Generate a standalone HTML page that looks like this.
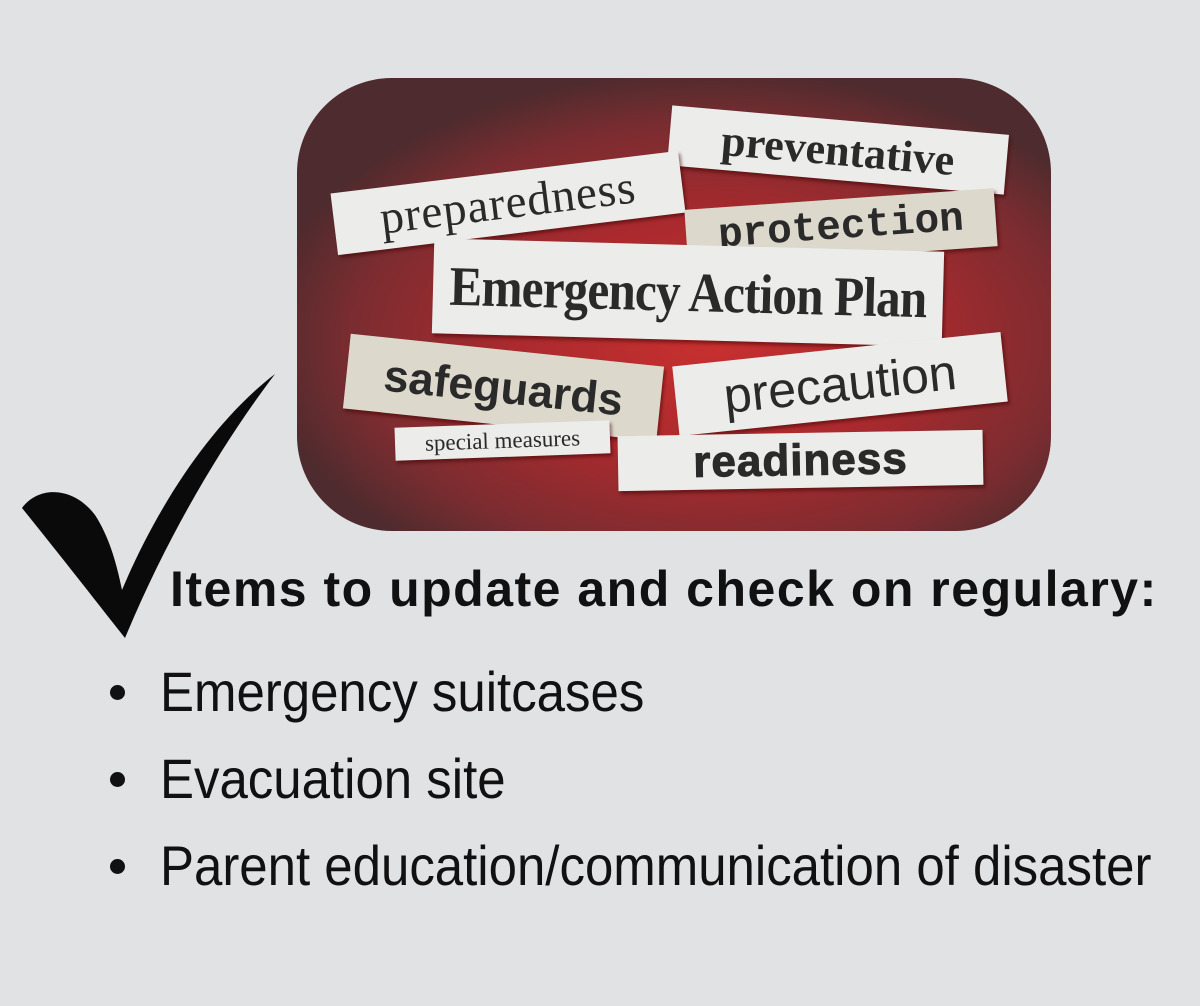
<!DOCTYPE html>
<html><head><meta charset="utf-8"><style>
html,body{margin:0;padding:0}
body{width:1200px;height:1006px;background:#e1e2e4;position:relative;overflow:hidden;font-family:"Liberation Sans",sans-serif}
.box{position:absolute;left:297px;top:78px;width:754px;height:453px;border-radius:95px;background:radial-gradient(ellipse 60% 60% at 55% 58%,#c8302f 0%,#a92a2e 45%,#7a2c30 80%,#4d2b2e 100%)}
.s{position:absolute;display:flex;align-items:center;justify-content:center;background:#ececea;box-shadow:2px 3px 3px rgba(60,0,0,.5);color:#2a2a2a;white-space:nowrap}
.t{background:#dcd8cc}
.h{position:absolute;left:170px;top:560px;font-size:50px;font-weight:bold;color:#111;letter-spacing:1.5px;font-family:"Liberation Sans",sans-serif;white-space:nowrap}
ul{position:absolute;left:110px;top:648px;margin:0;padding:0;list-style:none;font-family:"Liberation Sans",sans-serif;font-size:56px;color:#111}
li{height:87px;line-height:87px;position:relative;padding-left:50px;white-space:nowrap}
li span{display:inline-block;transform:scaleX(.91);transform-origin:left center}
li:before{content:"";position:absolute;left:0;top:37px;width:15px;height:15px;border-radius:50%;background:#111}
</style></head><body>
<div class="box"></div>
<div class="s" style="left:669px;top:120px;width:338px;height:60px;transform:rotate(5deg);font-family:'Liberation Serif',serif;font-weight:bold;font-size:44px">preventative</div>
<div class="s" style="left:333px;top:172px;width:350px;height:62px;transform:rotate(-7deg);font-family:'Liberation Serif',serif;font-size:47px;letter-spacing:1px">preparedness</div>
<div class="s t" style="left:686px;top:199px;width:310px;height:58px;transform:rotate(-4deg);font-family:'Liberation Mono',monospace;font-weight:bold;font-size:41px">protection</div>
<div class="s" style="left:433px;top:245px;width:510px;height:95px;transform:rotate(1.5deg);font-family:'Liberation Serif',serif;font-weight:bold;font-size:56px;letter-spacing:-1px"><span style="display:inline-block;transform:scaleX(.88)">Emergency Action Plan</span></div>
<div class="s t" style="left:346px;top:350px;width:315px;height:75px;transform:rotate(6deg);font-weight:bold;font-size:45px">safeguards</div>
<div class="s" style="left:675px;top:349px;width:330px;height:70px;transform:rotate(-6deg);font-size:50px">precaution</div>
<div class="s" style="left:395px;top:424px;width:215px;height:33px;transform:rotate(-2deg);font-family:'Liberation Serif',serif;font-size:23px">special measures</div>
<div class="s" style="left:618px;top:433px;width:365px;height:55px;transform:rotate(-1deg);font-weight:900;font-size:44px;letter-spacing:1px;-webkit-text-stroke:1px #2a2a2a">readiness</div>
<svg style="position:absolute;left:0;top:0" width="1200" height="1006">
<path d="M22,508 C40,484 75,488 95,515 C108,535 116,560 122,590 C160,500 215,420 275,374 C225,440 170,530 125,638 C95,600 60,555 22,508 Z" fill="#0a0a0a"/>
</svg>
<div class="h">Items to update and check on regulary:</div>
<ul><li><span>Emergency suitcases</span></li><li><span>Evacuation site</span></li><li><span>Parent education/communication of disaster</span></li></ul>
</body></html>
